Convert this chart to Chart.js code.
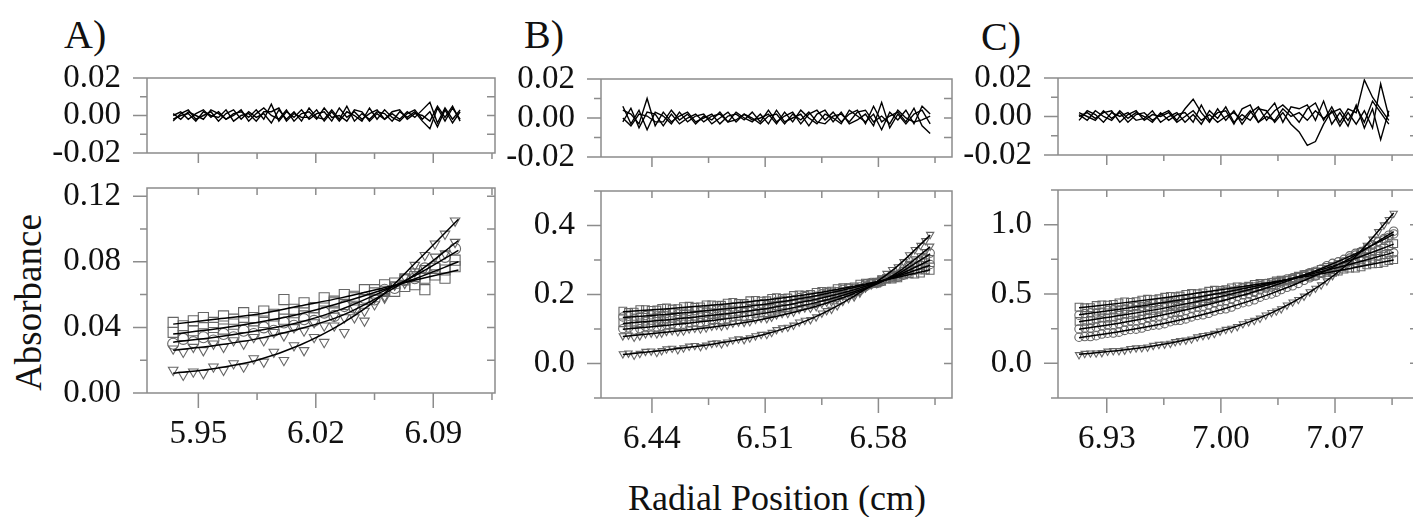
<!DOCTYPE html>
<html>
<head>
<meta charset="utf-8">
<script src="https://cdn.jsdelivr.net/npm/chart.js@4.4.1/dist/chart.umd.min.js"></script>
<style>
  html, body { margin: 0; padding: 0; background: #fff; overflow: hidden; width: 1413px; height: 517px; }
  canvas { position: absolute; }
  .t { position: absolute; font-family: "Liberation Serif", "DejaVu Serif", "Noto Serif", Tinos, "Times New Roman", Times, serif; color: #111; line-height: 1; white-space: nowrap; }
</style>
</head>
<body>
<div class="t" style="left:64px;top:15px;font-size:40px">A)</div>
<div class="t" style="left:524px;top:15px;font-size:40px">B)</div>
<div class="t" style="left:981px;top:17px;font-size:40px">C)</div>
<div class="t" style="left:-72px;top:284px;width:200px;text-align:center;font-size:37px;transform:rotate(-90deg)">Absorbance</div>
<div class="t" style="left:577px;top:480px;width:400px;text-align:center;font-size:36px">Radial Position (cm)</div>

<script>
// ---- panel A : x positions, scans, fits, residuals
const xA = [5.935, 5.941, 5.947, 5.953, 5.959, 5.965, 5.971, 5.977, 5.983, 5.989, 5.995, 6.001, 6.007, 6.013, 6.019,
            6.025, 6.031, 6.037, 6.043, 6.049, 6.055, 6.061, 6.067, 6.073, 6.079, 6.085, 6.091, 6.097, 6.103];
const obsA = [
  [.043,.041,.044,.046,.043,.047,.045,.049,.046,.050,.048,.057,.051,.055,.052,.058,.056,.060,.058,.063,.061,.066,.062,.069,.066,.063,.072,.070,.077],
  [.037,.035,.038,.036,.040,.039,.042,.040,.044,.043,.047,.045,.049,.047,.052,.050,.055,.054,.059,.057,.063,.062,.067,.065,.071,.070,.076,.075,.081],
  [.030,.033,.031,.034,.032,.036,.034,.038,.036,.040,.038,.043,.041,.045,.044,.049,.047,.053,.052,.058,.057,.063,.064,.069,.070,.076,.077,.083,.088],
  [.027,.025,.028,.026,.030,.028,.032,.030,.034,.032,.037,.035,.040,.038,.043,.041,.047,.046,.052,.050,.058,.059,.066,.067,.074,.076,.083,.085,.092],
  [.014,.011,.013,.012,.016,.014,.018,.016,.021,.019,.025,.020,.029,.026,.034,.031,.041,.037,.046,.044,.054,.058,.066,.071,.078,.084,.091,.097,.105]
];
const fitXA = [5.935, 5.96, 5.985, 6.01, 6.035, 6.06, 6.08, 6.105];
const fitA = [
  [.042,.045,.048,.053,.058,.064,.069,.075],
  [.036,.039,.043,.048,.055,.063,.070,.080],
  [.031,.034,.038,.043,.051,.062,.072,.087],
  [.026,.029,.033,.039,.047,.060,.073,.093],
  [.012,.015,.020,.029,.042,.060,.080,.106]
];
const resXA = [5.935,5.9395,5.944,5.9485,5.953,5.9575,5.962,5.9665,5.971,5.9755,5.980,5.9845,5.989,5.9935,5.998,6.0025,6.007,6.0115,6.016,6.0205,
               6.025,6.0295,6.034,6.0385,6.043,6.0475,6.052,6.0565,6.061,6.0655,6.070,6.0745,6.079,6.0835,6.088,6.0925,6.097,6.1015,6.106];
const resA = [
  [0,.002,-.002,.001,.003,-.001,.002,-.002,.001,.002,-.001,.003,-.002,.006,-.003,.002,-.001,.003,-.002,.001,.002,-.003,.004,-.001,.002,-.002,.001,.003,-.002,.001,-.002,.002,-.001,.003,.007,-.004,.004,-.002,.003],
  [-.003,.001,.003,-.002,0,.002,-.003,.001,.003,-.002,.002,-.001,.001,-.004,.003,-.002,.002,-.003,.004,-.001,-.002,.003,-.002,.005,-.003,.001,-.002,.002,.001,-.003,.002,-.001,.002,-.003,-.007,.004,-.003,.004,-.002],
  [.001,-.002,.002,0,-.002,.003,.001,-.002,0,.003,-.003,.001,.004,0,-.002,.003,-.003,.001,.002,-.002,.004,-.001,0,-.003,.003,.002,-.003,.001,-.002,.002,.003,-.002,.001,0,-.003,.005,-.001,.005,-.003],
  [-.002,0,.001,-.003,.002,0,-.001,.003,-.003,0,.001,-.003,.002,.002,.004,-.003,.001,-.001,-.001,.003,-.003,.002,-.003,.002,0,-.003,.004,-.002,.003,-.001,-.003,.001,.003,-.002,.002,-.006,.003,-.004,.002]
];

// ---- panel B (two interleaved sets of radii)
const xB = [6.422, 6.429, 6.436, 6.443, 6.449, 6.456, 6.463, 6.470, 6.477, 6.483, 6.490, 6.497, 6.504, 6.511, 6.517,
            6.524, 6.531, 6.538, 6.545, 6.551, 6.558, 6.565, 6.572, 6.579, 6.585, 6.592, 6.599, 6.606, 6.612];
const obsB = [
  [.152,.149,.156,.155,.161,.159,.166,.164,.170,.169,.177,.174,.183,.182,.191,.190,.199,.200,.209,.210,.220,.222,.233,.236,.245,.248,.260,.262,.270],
  [.135,.131,.139,.138,.145,.144,.151,.150,.157,.156,.164,.163,.171,.170,.180,.181,.191,.192,.202,.204,.215,.218,.231,.235,.246,.250,.265,.272,.287],
  [.118,.114,.123,.122,.129,.128,.135,.135,.142,.141,.149,.149,.157,.158,.167,.169,.179,.181,.192,.195,.208,.212,.227,.233,.246,.253,.272,.284,.302],
  [.101,.097,.107,.106,.113,.112,.119,.119,.127,.126,.135,.135,.144,.145,.155,.158,.168,.171,.183,.187,.201,.206,.223,.232,.247,.257,.281,.297,.320],
  [.080,.076,.086,.086,.093,.092,.100,.100,.108,.108,.117,.119,.128,.130,.141,.145,.157,.160,.174,.179,.195,.201,.220,.232,.249,.261,.290,.312,.340],
  [.028,.024,.035,.032,.042,.040,.050,.049,.058,.057,.068,.069,.080,.084,.098,.105,.120,.127,.146,.157,.180,.193,.219,.238,.261,.280,.315,.342,.374]
];
const xB2 = [6.4255, 6.4325, 6.4395, 6.446, 6.4525, 6.4595, 6.4665, 6.4735, 6.480, 6.4865, 6.4935, 6.5005, 6.5075, 6.514,
             6.5205, 6.5275, 6.5345, 6.5415, 6.548, 6.5545, 6.5615, 6.5685, 6.5755, 6.582, 6.5885, 6.5955, 6.6025, 6.609];
const obsB2 = [
  [.148,.156,.154,.160,.158,.165,.163,.170,.168,.175,.174,.182,.181,.189,.189,.197,.198,.206,.208,.217,.219,.230,.233,.243,.245,.257,.259,.271],
  [.137,.135,.141,.140,.147,.146,.153,.152,.159,.158,.166,.166,.173,.174,.183,.184,.194,.195,.205,.208,.219,.222,.235,.239,.250,.256,.270,.278],
  [.120,.118,.125,.124,.131,.130,.137,.137,.144,.143,.151,.151,.160,.161,.170,.172,.182,.185,.196,.200,.212,.218,.232,.238,.251,.261,.280,.292],
  [.103,.101,.109,.108,.115,.114,.121,.122,.129,.129,.137,.138,.147,.148,.159,.161,.172,.175,.187,.192,.206,.212,.230,.237,.254,.267,.291,.306],
  [.082,.080,.088,.088,.095,.094,.102,.103,.110,.111,.120,.121,.131,.134,.145,.149,.161,.165,.178,.185,.200,.208,.228,.238,.257,.273,.303,.324],
  [.030,.029,.036,.037,.044,.045,.052,.053,.060,.062,.071,.074,.084,.090,.103,.111,.125,.135,.153,.167,.188,.204,.230,.247,.272,.295,.330,.356]
];
const fitXB = [6.422, 6.45, 6.48, 6.51, 6.54, 6.565, 6.59, 6.612];
const fitB = [
  [.150,.159,.170,.184,.203,.224,.248,.272],
  [.133,.143,.156,.172,.195,.220,.250,.285],
  [.116,.127,.141,.159,.185,.214,.252,.300],
  [.099,.111,.126,.146,.175,.208,.254,.318],
  [.078,.091,.107,.130,.164,.203,.258,.338],
  [.026,.040,.058,.085,.133,.195,.275,.372]
];
const resXB = [6.422,6.427,6.432,6.437,6.442,6.447,6.452,6.457,6.462,6.467,6.472,6.477,6.482,6.487,6.492,6.497,6.502,6.507,6.512,6.517,
               6.522,6.527,6.532,6.537,6.542,6.547,6.552,6.557,6.562,6.567,6.572,6.577,6.582,6.587,6.592,6.597,6.602,6.607,6.612];
const resB = [
  [.004,.002,-.003,.010,-.004,.003,-.002,.001,.003,-.002,0,.002,-.003,.001,.002,-.001,.003,-.002,.004,-.002,.001,.003,-.003,.002,.004,-.001,.003,-.002,.002,.004,-.003,.006,-.002,.001,.003,-.002,.005,-.004,-.008],
  [-.002,.005,-.005,.003,.002,-.004,.002,-.003,0,.002,-.002,.001,.002,-.002,.003,0,-.002,.002,-.003,.004,-.002,0,.002,-.004,.002,.004,-.002,.003,-.003,-.001,.002,-.004,.008,-.005,.002,-.003,.002,.004,-.003],
  [.006,-.003,.004,-.006,.003,.001,-.003,.003,-.002,.001,.002,-.003,0,.003,-.002,.002,-.001,0,.002,-.003,.003,-.002,.004,0,-.003,.002,0,-.003,.004,.001,-.002,.002,-.006,.003,-.001,.004,-.003,.006,.002],
  [0,-.004,.002,.001,-.002,-.002,.004,-.001,.002,-.003,.001,-.001,.003,-.002,-.001,.002,0,-.003,.001,.002,-.003,.002,-.001,.003,-.002,-.003,.001,.002,-.002,.003,.004,-.002,.001,-.003,.004,0,-.002,-.001,.001]
];

// ---- panel C (two interleaved sets of radii)
const xC = [6.913, 6.920, 6.927, 6.934, 6.941, 6.948, 6.955, 6.962, 6.969, 6.975, 6.982, 6.989, 6.996, 7.003, 7.010,
            7.017, 7.024, 7.031, 7.037, 7.044, 7.051, 7.058, 7.065, 7.072, 7.079, 7.086, 7.093, 7.100, 7.106];
const obsC = [
  [.405,.402,.422,.425,.443,.445,.462,.466,.483,.486,.504,.508,.527,.531,.551,.556,.576,.582,.600,.607,.628,.635,.657,.665,.686,.695,.717,.728,.748],
  [.347,.364,.369,.386,.391,.410,.416,.435,.442,.459,.467,.488,.497,.518,.528,.550,.561,.583,.592,.617,.629,.654,.669,.695,.710,.737,.754,.783,.797],
  [.303,.309,.327,.334,.353,.360,.381,.389,.410,.418,.440,.451,.475,.487,.513,.527,.552,.568,.593,.610,.640,.659,.691,.712,.745,.767,.804,.829,.863],
  [.248,.254,.273,.280,.300,.309,.331,.341,.364,.373,.398,.412,.438,.453,.482,.500,.530,.550,.580,.603,.639,.664,.704,.732,.775,.806,.854,.890,.933],
  [.188,.193,.211,.218,.237,.246,.267,.277,.300,.310,.335,.350,.377,.393,.424,.444,.477,.500,.532,.559,.599,.629,.674,.709,.759,.798,.854,.900,.953],
  [.062,.074,.077,.091,.095,.111,.117,.136,.144,.163,.175,.200,.215,.244,.265,.299,.325,.366,.393,.442,.484,.541,.594,.665,.729,.812,.895,.998,1.082]
];
const xC2 = [6.9165, 6.9235, 6.9305, 6.9375, 6.9445, 6.9515, 6.9585, 6.9655, 6.972, 6.9785, 6.9855, 6.9925, 6.9995, 7.0065,
             7.0135, 7.0205, 7.0275, 7.034, 7.0405, 7.0475, 7.0545, 7.0615, 7.0685, 7.0755, 7.0825, 7.0895, 7.0965, 7.103];
const obsC2 = [
  [.401,.417,.420,.436,.440,.456,.460,.477,.480,.497,.502,.520,.525,.544,.550,.569,.575,.594,.600,.620,.628,.649,.657,.679,.687,.710,.719,.741],
  [.359,.363,.381,.385,.404,.410,.429,.435,.454,.460,.481,.489,.511,.519,.543,.551,.576,.583,.608,.619,.645,.657,.686,.698,.727,.741,.772,.786],
  [.303,.321,.327,.347,.353,.374,.382,.403,.411,.432,.442,.466,.478,.503,.517,.543,.557,.584,.598,.628,.646,.678,.698,.732,.753,.789,.813,.849],
  [.254,.261,.279,.287,.307,.317,.339,.349,.371,.382,.408,.422,.448,.464,.494,.512,.543,.562,.594,.618,.654,.681,.721,.750,.793,.827,.875,.908],
  [.193,.199,.217,.225,.244,.254,.275,.286,.308,.320,.345,.361,.388,.406,.437,.458,.491,.513,.548,.576,.617,.649,.694,.731,.781,.823,.880,.924],
  [.071,.074,.087,.091,.106,.112,.129,.138,.156,.167,.190,.205,.232,.252,.285,.309,.348,.377,.420,.460,.515,.565,.632,.694,.773,.851,.949,1.037]
];
const fitXC = [6.913, 6.94, 6.97, 7.00, 7.03, 7.055, 7.08, 7.106];
const fitC = [
  [.400,.436,.480,.530,.583,.632,.685,.745],
  [.350,.393,.447,.508,.578,.643,.716,.800],
  [.300,.348,.409,.482,.568,.651,.746,.860],
  [.245,.295,.363,.447,.550,.654,.777,.930],
  [.185,.233,.300,.387,.499,.617,.762,.950],
  [.065,.096,.149,.231,.358,.517,.740,1.085]
];
const resXC = [6.913,6.918,6.923,6.928,6.933,6.938,6.943,6.948,6.953,6.958,6.963,6.968,6.973,6.978,6.983,6.988,6.993,6.998,7.003,7.008,
               7.013,7.018,7.023,7.028,7.033,7.038,7.043,7.048,7.053,7.058,7.063,7.068,7.073,7.078,7.083,7.088,7.093,7.098,7.103];
const resC = [
  [.002,0,-.002,.003,-.001,.002,-.003,.001,.002,-.002,.001,.003,-.002,.004,.009,.002,-.003,.004,-.002,.003,-.004,.002,.005,-.002,.003,.006,.002,-.003,.004,.007,-.002,.005,-.003,.004,.002,.019,.010,.004,-.002],
  [-.002,.003,.001,-.003,.002,0,.002,-.002,-.001,.003,-.003,0,.002,-.003,.001,-.004,.003,-.001,.005,-.003,.001,-.002,.004,.003,-.003,.002,-.004,-.008,-.015,-.013,-.004,.003,-.005,.002,-.004,.003,-.006,.017,0],
  [.001,-.002,.003,0,-.002,.003,-.001,.002,0,-.003,.002,-.002,.001,.002,-.003,.006,-.002,.002,.003,-.004,.004,.006,-.003,.002,.007,-.003,.005,.004,.006,-.002,.008,-.004,.002,-.005,.006,-.006,.004,-.012,.003],
  [0,.002,-.001,.002,.003,-.003,.001,.003,-.002,.001,0,.002,-.003,0,.003,-.002,.001,-.003,0,.002,-.002,.003,-.003,0,-.002,.004,0,.002,-.002,.003,-.001,.002,.004,-.002,.005,-.003,.008,.002,-.004]
];

// ---- tick labels
const xTicksA = [5.95, 6.02, 6.09];
const xTicksB = [6.44, 6.51, 6.58];
const xTicksC = [6.93, 7.00, 7.07];
const yTicksRes = [-0.02, 0.00, 0.02];
const yTicksA = [0.00, 0.04, 0.08, 0.12];
const yTicksB = [0.0, 0.2, 0.4];
const yTicksC = [0.0, 0.5, 1.0];

// ---- look
const axisColor = '#8c8c8c';
const markColor = '#666';
Chart.defaults.font.family = '"Liberation Serif", "DejaVu Serif", "Noto Serif", Tinos, "Times New Roman", Times, serif';
Chart.defaults.font.size = 33;
Chart.defaults.color = '#111';

// box, ticks (outer/inner) drawn on the scales
const frame = {
  id: 'frame',
  afterDatasetsDraw(chart, args, o) {
    const { ctx, chartArea: a, scales: { x, y } } = chart;
    const marks = (s, step) => {
      const out = [];
      for (let k = Math.ceil(s.min / step - 1e-6); k * step <= s.max + 1e-9; k++) {
        const v = k * step;
        out.push({ p: s.getPixelForValue(v), major: s.ticks.some(t => Math.abs(t.value - v) < step / 4) });
      }
      return out;
    };
    ctx.save();
    ctx.strokeStyle = axisColor;
    ctx.lineWidth = 1.5;
    ctx.beginPath();
    ctx.rect(a.left, a.top, a.right - a.left, a.bottom - a.top);
    marks(y, o.yStep).forEach(m => {
      ctx.moveTo(a.left, m.p); ctx.lineTo(a.left - (m.major ? 14 : 7), m.p);
      ctx.moveTo(a.right, m.p); ctx.lineTo(a.right - 8, m.p);
    });
    marks(x, o.xStep).forEach(m => {
      const len = o.main ? (m.major ? 15 : 7) : (m.major ? 10 : 6);
      ctx.moveTo(m.p, a.bottom); ctx.lineTo(m.p, a.bottom + len);
      if (o.main) { ctx.moveTo(m.p, a.top); ctx.lineTo(m.p, a.top + 7); }
    });
    ctx.stroke();
    ctx.restore();
  }
};

function pts(xs, ys) { return xs.map((x, i) => ({ x, y: ys[i] })); }

function scanSets(xs, rows, styles, r) {
  return rows.map((ys, i) => ({
    data: pts(xs, ys),
    showLine: false,
    pointStyle: styles[i],
    pointRotation: styles[i] === 'triangle' ? 180 : 0,
    pointRadius: styles[i] === 'rect' ? r * 1.3 : r,
    pointBorderColor: markColor,
    pointBackgroundColor: 'rgba(0,0,0,0)',
    pointBorderWidth: 1.1,
    order: 2
  }));
}

function lineSets(xs, rows, smooth, w) {
  return rows.map(ys => ({
    data: pts(xs, ys),
    showLine: true,
    pointRadius: 0,
    borderColor: '#000',
    borderWidth: w,
    cubicInterpolationMode: smooth ? 'monotone' : 'default',
    tension: 0,
    order: 0
  }));
}

function makeChart(box, c) {
  // margins around the plot box; top/bottom large enough for the label overhang Chart.js reserves
  const ML = 140, MT = 50, MR = 12, MB = c.main ? 80 : 50;
  const w = box.r - box.l + ML + MR, h = box.b - box.t + MT + MB;
  const cv = document.createElement('canvas');
  cv.width = w; cv.height = h;
  cv.style.left = (box.l - ML) + 'px';
  cv.style.top = (box.t - MT) + 'px';
  cv.style.width = w + 'px';
  cv.style.height = h + 'px';
  document.body.appendChild(cv);
  new Chart(cv, {
    type: 'scatter',
    data: { datasets: c.datasets },
    options: {
      responsive: false,
      animation: false,
      devicePixelRatio: 1,
      layout: { padding: { left: 0, top: MT, right: MR, bottom: 0 } },
      plugins: { legend: { display: false }, tooltip: { enabled: false },
                 frame: { xStep: 0.035, yStep: c.yStep, main: c.main } },
      scales: {
        x: {
          type: 'linear', min: c.xr[0], max: c.xr[1],
          grid: { display: false }, border: { display: false },
          ticks: { display: c.main, autoSkip: false, maxRotation: 0, padding: 14, callback: v => v.toFixed(2) },
          afterBuildTicks: s => { s.ticks = c.xt.map(v => ({ value: v })); },
          afterFit: s => { s.height = MB; }
        },
        y: {
          type: 'linear', min: c.yr[0], max: c.yr[1],
          grid: { display: false }, border: { display: false },
          ticks: { autoSkip: false, padding: 18, callback: v => v.toFixed(c.dec) },
          afterBuildTicks: s => { s.ticks = c.yt.map(v => ({ value: v })); },
          afterFit: s => { s.width = ML; }
        }
      }
    },
    plugins: [frame]
  });
}

// panel A
makeChart({ l: 147, t: 78, r: 495, b: 153 }, {
  main: false, xr: [5.9194, 6.1268], xt: xTicksA, yr: [-0.02, 0.02], yt: yTicksRes, yStep: 0.01, dec: 2,
  datasets: lineSets(resXA, resA, false, 1.4)
});
makeChart({ l: 147, t: 188, r: 495, b: 393 }, {
  main: true, xr: [5.9194, 6.1268], xt: xTicksA, yr: [0, 0.125], yt: yTicksA, yStep: 0.02, dec: 2,
  datasets: lineSets(fitXA, fitA, true, 1.5).concat(scanSets(xA, obsA, ['rect', 'rect', 'circle', 'triangle', 'triangle'], 5.5))
});

// panel B
const stylesB = ['rect', 'circle', 'rect', 'circle', 'triangle', 'triangle'];
makeChart({ l: 601, t: 79, r: 952, b: 157 }, {
  main: false, xr: [6.4085, 6.6255], xt: xTicksB, yr: [-0.02, 0.02], yt: yTicksRes, yStep: 0.01, dec: 2,
  datasets: lineSets(resXB, resB, false, 1.4)
});
makeChart({ l: 601, t: 191, r: 952, b: 398 }, {
  main: true, xr: [6.4085, 6.6255], xt: xTicksB, yr: [-0.1, 0.5], yt: yTicksB, yStep: 0.1, dec: 1,
  datasets: lineSets(fitXB, fitB, true, 1.5)
    .concat(scanSets(xB, obsB, stylesB, 4.2))
    .concat(scanSets(xB2, obsB2, stylesB, 4.2))
});

// panel C
const stylesC = ['rect', 'circle', 'rect', 'circle', 'circle', 'triangle'];
makeChart({ l: 1058, t: 78, r: 1418, b: 155 }, {
  main: false, xr: [6.9001, 7.1209], xt: xTicksC, yr: [-0.02, 0.02], yt: yTicksRes, yStep: 0.01, dec: 2,
  datasets: lineSets(resXC, resC, false, 1.4)
});
makeChart({ l: 1058, t: 190, r: 1418, b: 398 }, {
  main: true, xr: [6.9001, 7.1209], xt: xTicksC, yr: [-0.25, 1.25], yt: yTicksC, yStep: 0.25, dec: 1,
  datasets: lineSets(fitXC, fitC, true, 1.5)
    .concat(scanSets(xC, obsC, stylesC, 4.2))
    .concat(scanSets(xC2, obsC2, stylesC, 4.2))
});
</script>
</body>
</html>
